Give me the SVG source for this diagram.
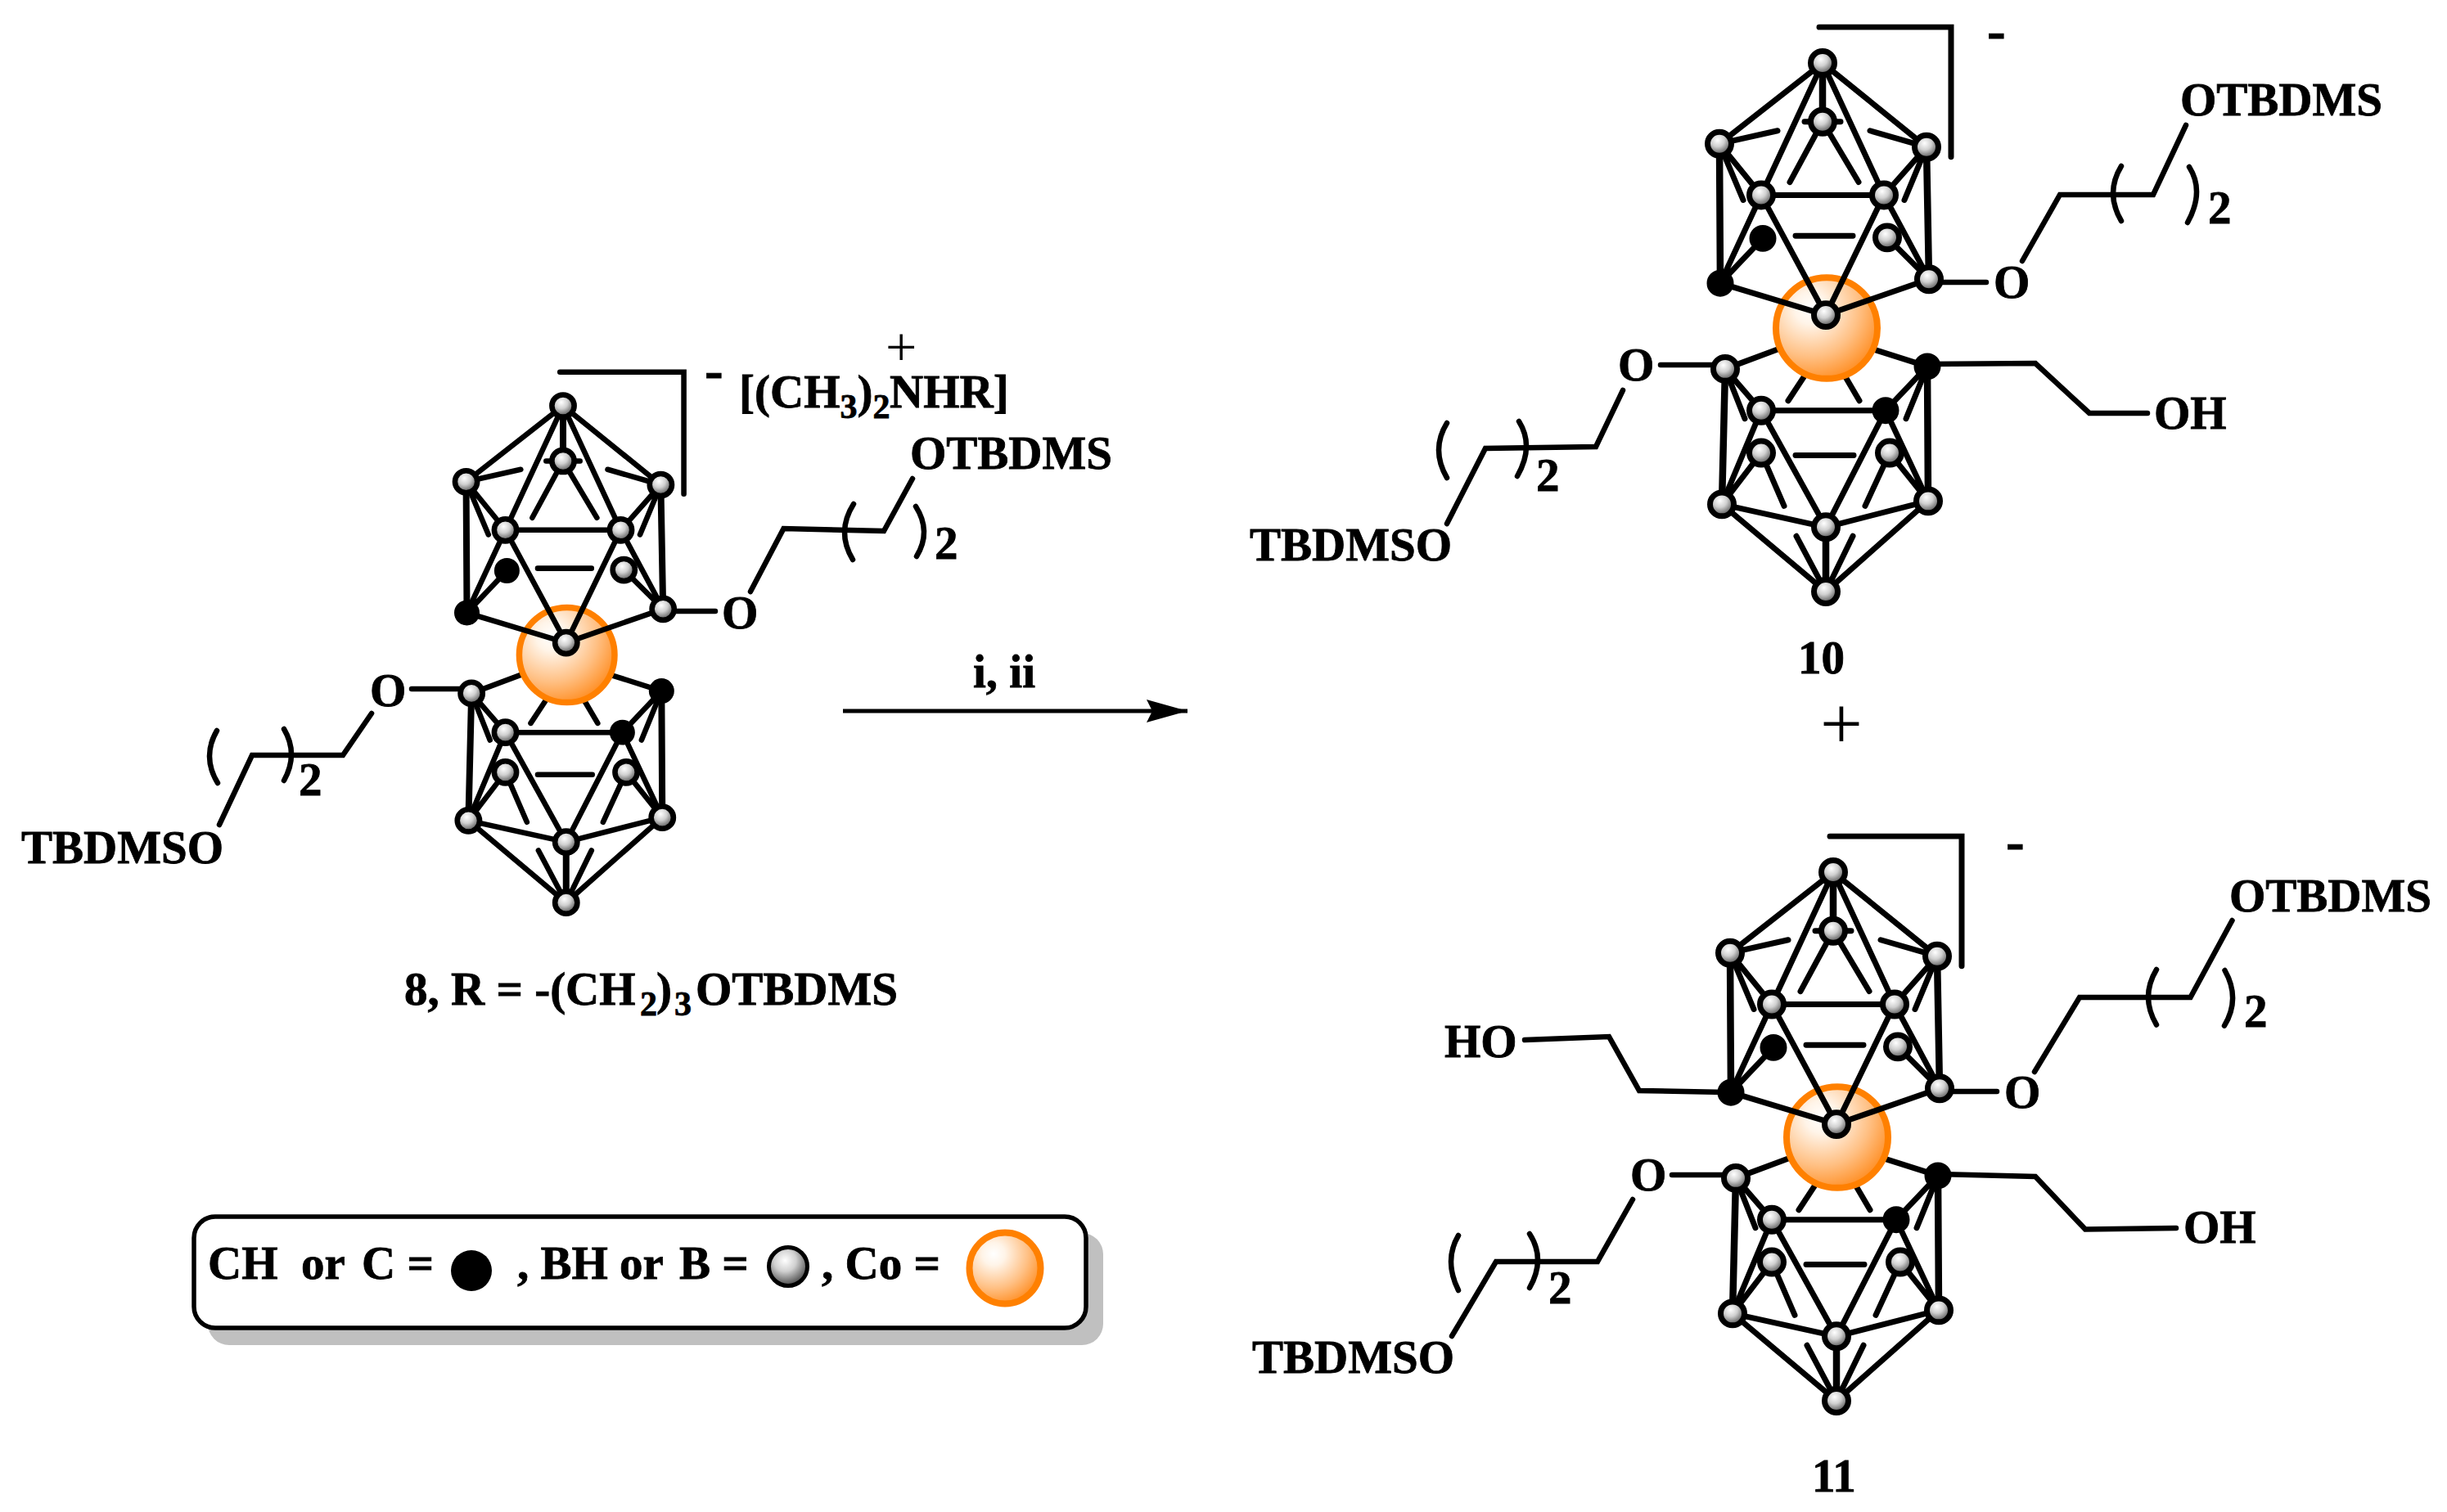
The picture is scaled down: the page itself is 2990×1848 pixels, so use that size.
<svg xmlns="http://www.w3.org/2000/svg" xmlns:xlink="http://www.w3.org/1999/xlink" width="2990" height="1848" viewBox="0 0 2990 1848">
<style>
text{font-family:"Liberation Serif",serif;font-weight:700;font-size:57px;fill:#000;stroke:#000;stroke-width:.8px;white-space:pre}
.sub{font-size:42px}
.plus{font-weight:400;stroke-width:0}
.minus{font-size:68px}
.b{stroke:#000;stroke-width:7;stroke-linecap:round;fill:none}
.v{stroke:#000;stroke-width:8.500;stroke-linecap:round;fill:none}
.c{stroke:#000;stroke-width:6.500;stroke-linecap:round;stroke-linejoin:miter;fill:none}
.g{fill:url(#ball);stroke:#000;stroke-width:7}
.k{fill:#000;stroke:#000;stroke-width:7}
.co{fill:url(#cobalt);stroke:#FF8000;stroke-width:8}
</style>
<defs>
<radialGradient id="ball" cx="0.42" cy="0.34" r="0.72"><stop offset="0" stop-color="#fff"/><stop offset="0.4" stop-color="#d0d0d0"/><stop offset="1" stop-color="#333"/></radialGradient>
<radialGradient id="cobalt" cx="0.34" cy="0.3" r="0.8"><stop offset="0" stop-color="#fff"/><stop offset="0.2" stop-color="#FFF4E8"/><stop offset="0.6" stop-color="#FFC084"/><stop offset="1" stop-color="#FF8410"/></radialGradient>
<marker id="head" markerUnits="userSpaceOnUse" markerWidth="54" markerHeight="30" refX="50" refY="14" orient="auto"><path d="M0 0L50 14L0 28L7 14Z" fill="#000"/></marker>
<g id="cage">
<path class="b" d="M0 0L-126 99M0 0L127 103M-126 99L-55 83M127 103L58 83M-126 99L-75 162M127 103L75 162M-126 99L-97 168M127 103L100 168M-75 162L75 162M0 0L-75 162M0 0L75 162M0 72L-40 146M0 72L44 146M-22 72L22 72"/>
<path class="v" d="M0 0L0 72M-126 99L-125 270M127 103L130 265M-119 375L-123 541M128 372L129 537"/>
<path class="b" d="M-75 162L-125 270M75 162L130 265M-73 215L-125 270M79 214L130 265M-33 212L37 212"/>
<path class="b" d="M-119 375L-55 351M128 372L65 352M-42 414L-23 385M45 414L28 385M-119 375L-75 426M128 372L77 426M-119 375L-95 436M128 372L102 436M-75 426L77 426M-75 426L-123 541M77 426L129 537M-75 478L-123 541M82 478L129 537M-75 478L-47 543M82 478L52 543M-33 481L38 481M-75 426L4 569M77 426L4 569M-123 541L4 569M129 537L4 569M-123 541L4 648M129 537L4 648M-32 580L4 648M37 580L4 648"/>
<path class="v" d="M4 569L4 648"/>
<path class="b" d="M-4 -44L157 -44L157 115" stroke-linejoin="miter"/>
<circle class="co" cx="5" cy="325" r="62"/>
<path class="b" d="M-125 270L4 309M130 265L4 309M-75 162L4 309M75 162L4 309"/>
<circle class="g" cx="0" cy="0" r="14.500"/><circle class="g" cx="0" cy="72" r="14.500"/><circle class="g" cx="-126" cy="99" r="14.500"/><circle class="g" cx="127" cy="103" r="14.500"/><circle class="g" cx="-75" cy="162" r="14.500"/><circle class="g" cx="75" cy="162" r="14.500"/><circle class="k" cx="-73" cy="215" r="13"/><circle class="g" cx="79" cy="214" r="14.500"/><circle class="k" cx="-125" cy="270" r="13"/><circle class="g" cx="130" cy="265" r="14.500"/><circle class="g" cx="4" cy="309" r="14.500"/>
<circle class="g" cx="-119" cy="375" r="14.500"/><circle class="k" cx="128" cy="372" r="13"/><circle class="g" cx="-75" cy="426" r="14.500"/><circle class="k" cx="77" cy="426" r="13"/><circle class="g" cx="-75" cy="478" r="14.500"/><circle class="g" cx="82" cy="478" r="14.500"/><circle class="g" cx="-123" cy="541" r="14.500"/><circle class="g" cx="129" cy="537" r="14.500"/><circle class="g" cx="4" cy="569" r="14.500"/><circle class="g" cx="4" cy="648" r="14.500"/>
</g>
</defs>
<rect width="2990" height="1848" fill="#fff"/>
<g id="connectors">
<g id="chains-8">
<path class="c" d="M575 842L503 842"/>
<path class="c" d="M268 1008L308 923L419 923L454 872"/>
<path class="c" d="M265 893Q246.500 925 266 957M347 891Q365 921.500 347 954"/>
<path class="c" d="M809 747L874 747"/>
<path class="c" d="M917 723L957.500 646L1080 649L1115 585"/>
<path class="c" d="M1043 616Q1021.500 650 1042 684M1119 619Q1138.500 649.500 1120 680"/>
</g>
<g id="chains-10">
<path class="c" d="M2357 345L2427 345"/>
<path class="c" d="M2471 319L2517 238L2631 238L2671 153"/>
<path class="c" d="M2592 203Q2572 236 2592 270M2675 204Q2694 234 2673 272"/>
<path class="c" d="M2355 445L2487 444L2553 505L2624 505"/>
<path class="c" d="M2108 446L2029 446"/>
<path class="c" d="M1768 640L1815 548L1950 546L1983 477"/>
<path class="c" d="M1768 517Q1748 549.500 1768 584M1856 515Q1875 545.500 1854 582"/>
</g>
<g id="chains-11">
<path class="c" d="M2370 1334L2440 1334"/>
<path class="c" d="M2486 1310L2541 1219L2676.500 1219L2727.500 1125"/>
<path class="c" d="M2635 1185Q2615 1218.500 2635 1252.500M2718.500 1186Q2738 1220.500 2718 1253.600"/>
<path class="c" d="M2368 1435L2487 1438L2548 1502.500L2659 1501"/>
<path class="c" d="M1863 1271L1966 1267L2003 1333L2109 1335"/>
<path class="c" d="M2121 1436L2043 1436"/>
<path class="c" d="M1995 1466L1952 1542L1828 1542L1774 1633"/>
<path class="c" d="M1782 1510Q1764 1540.500 1782 1577M1869 1508Q1889 1539 1869 1574"/>
</g>
<line id="reaction-arrow" x1="1030" y1="869" x2="1451" y2="869" stroke="#000" stroke-width="5" marker-end="url(#head)"/>
</g>
<g id="compound-8">
<use xlink:href="#cage" href="#cage" transform="translate(688 496) scale(.94 .937)"/>
<text class="minus" x="861" y="475">-</text>
<text x="1082" y="447" class="plus" style="font-size:68px">+</text>
<text x="903" y="498">[(CH<tspan class="sub" dy="13">3</tspan><tspan dy="-13">)</tspan><tspan class="sub" dy="13">2</tspan><tspan dy="-13" x="1087">NHR]</tspan></text>
<text x="1112" y="573">OTBDMS</text>
<text x="882" y="768">O</text>
<text x="1142" y="683">2</text>
<text x="452" y="863">O</text>
<text x="365" y="972">2</text>
<text x="26" y="1055">TBDMSO</text>
<text x="494" y="1228">8, R = -(CH<tspan class="sub" dy="13" x="782">2</tspan><tspan dy="-13" x="802">)</tspan><tspan class="sub" dy="13" x="824">3</tspan><tspan dy="-13" x="850">OTBDMS</tspan></text>
</g>
<text id="reagents" x="1189" y="840">i, ii</text>
<g id="compound-10">
<use xlink:href="#cage" href="#cage" transform="translate(2227 77) scale(1 .997)"/>
<text class="minus" x="2428" y="60">-</text>
<text x="2664" y="141">OTBDMS</text>
<text x="2698" y="273">2</text>
<text x="2436" y="364">O</text>
<text x="2632" y="524">OH</text>
<text x="1977" y="465">O</text>
<text x="1877" y="600">2</text>
<text x="1527" y="685">TBDMSO</text>
<text x="2197" y="823">10</text>
</g>
<text id="plus-sign" class="plus" x="2224" y="915" style="font-size:92px">+</text>
<g id="compound-11">
<use xlink:href="#cage" href="#cage" transform="translate(2240 1066) scale(1 .997)"/>
<text class="minus" x="2451" y="1051">-</text>
<text x="2724" y="1114">OTBDMS</text>
<text x="2742" y="1255">2</text>
<text x="2449" y="1354">O</text>
<text x="2668" y="1519">OH</text>
<text x="1765" y="1292">HO</text>
<text x="1992" y="1455">O</text>
<text x="1892" y="1593">2</text>
<text x="1530" y="1678">TBDMSO</text>
<text x="2214" y="1823">11</text>
</g>
<g id="legend">
<rect x="254" y="1507" width="1094" height="137" rx="26" fill="#C0C0C0"/>
<rect x="237" y="1487" width="1090" height="136" rx="26" fill="#fff" stroke="#000" stroke-width="5.500"/>
<text x="254" y="1563">CH  or <tspan x="442">C =</tspan></text>
<circle cx="576" cy="1553" r="25" fill="#000"/>
<text x="632" y="1563">, BH or <tspan x="830">B =</tspan></text>
<circle cx="963" cy="1548" r="23.500" fill="url(#ball)" stroke="#000" stroke-width="5"/>
<text x="1004" y="1563">, Co =</text>
<circle class="co" cx="1228" cy="1550" r="43.500"/>
</g>
</svg>
